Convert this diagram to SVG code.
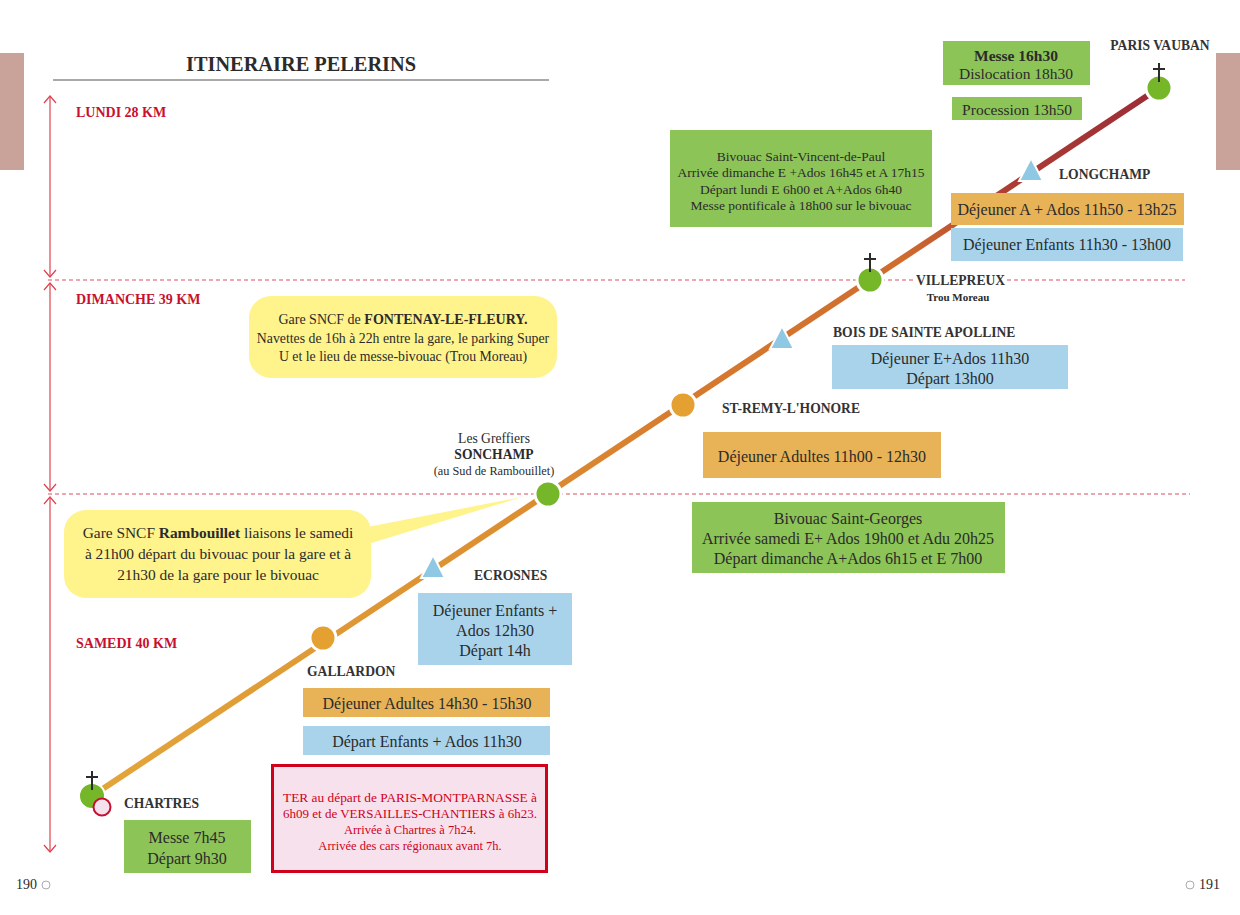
<svg xmlns="http://www.w3.org/2000/svg" width="1240" height="915" viewBox="0 0 1240 915">
<defs>
<style>
text{font-family:"Liberation Serif","Times New Roman",serif;fill:#2b2b2b}
.day{font-size:14px;font-weight:bold;fill:#C8102E}
.lbl{font-size:13.6px;font-weight:bold;fill:#333}
.bx{font-size:16px;text-anchor:middle}
.sm{font-size:13.5px;text-anchor:middle}
.top{font-size:15.5px;text-anchor:middle}
.green{fill:#8DC457}
.orange{fill:#E8B257}
.blue{fill:#A9D3EA}
.yellow{fill:#FFF38C}
.div{stroke:#D9505F;stroke-width:1.2;stroke-dasharray:4 3;fill:none}
.varr{stroke:#E0404F;stroke-width:1.2;fill:none}
.cross{stroke:#2b2b2b;stroke-width:2;fill:none}
.red{fill:#D0021B;font-size:12.5px;text-anchor:middle}
</style>
<linearGradient id="route" gradientUnits="userSpaceOnUse" x1="92" y1="796" x2="1159" y2="88">
<stop offset="0" stop-color="#E3A63A"/>
<stop offset="0.4" stop-color="#DC8E31"/>
<stop offset="0.55" stop-color="#D77B2E"/>
<stop offset="0.76" stop-color="#CF6C2E"/>
<stop offset="0.86" stop-color="#AC3D33"/>
<stop offset="1" stop-color="#9B2C37"/>
</linearGradient>
<marker id="chev" viewBox="0 0 10 14" refX="9" refY="7" markerWidth="10" markerHeight="14" markerUnits="userSpaceOnUse" orient="auto-start-reverse">
<path d="M2,1 L9,7 L2,13" fill="none" stroke="#E0404F" stroke-width="1.2"/>
</marker>
</defs>
<rect width="1240" height="915" fill="#ffffff"/>

<g id="page">
<rect x="0" y="53" width="24" height="117" fill="#C9A29A"/>
<rect x="1216" y="53" width="24" height="117" fill="#C9A29A"/>
<text x="301" y="71" text-anchor="middle" font-size="21" font-weight="bold" fill="#2b2b2b" textLength="230" lengthAdjust="spacingAndGlyphs">ITINERAIRE PELERINS</text>
<line x1="53" y1="80" x2="549" y2="80" stroke="#555" stroke-width="1.2"/>
<text x="16" y="889" font-size="14">190</text>
<circle cx="46" cy="885" r="4" fill="none" stroke="#aaa" stroke-width="1"/>
<circle cx="1190" cy="885" r="4" fill="none" stroke="#aaa" stroke-width="1"/>
<text x="1199" y="889" font-size="14">191</text>
</g>

<g id="days">
<line class="div" x1="48" y1="280" x2="1185" y2="280"/>
<line class="div" x1="48" y1="494" x2="1190" y2="494"/>
<line class="varr" x1="50" y1="96" x2="50" y2="277" marker-start="url(#chev)" marker-end="url(#chev)"/>
<line class="varr" x1="50" y1="283" x2="50" y2="491" marker-start="url(#chev)" marker-end="url(#chev)"/>
<line class="varr" x1="50" y1="497" x2="50" y2="852" marker-start="url(#chev)" marker-end="url(#chev)"/>
<text class="day" x="76" y="117">LUNDI 28 KM</text>
<text class="day" x="76" y="304">DIMANCHE 39 KM</text>
<text class="day" x="76" y="648">SAMEDI 40 KM</text>
</g>

<g id="connectors">
<line x1="92" y1="796" x2="1159" y2="88" stroke="url(#route)" stroke-width="6"/>
<path d="M352,530 L522,497 L355,548 Z" fill="#FFF38C"/>
</g>

<g id="paris-vauban">
<circle cx="1159" cy="88" r="13" fill="#76B72A" stroke="#fff" stroke-width="3"/>
<path class="cross" d="M1159,63 V82 M1153,69 H1165"/>
<text class="lbl" x="1160" y="50" text-anchor="middle">PARIS VAUBAN</text>
<rect class="green" x="943" y="41" width="147" height="44"/>
<text class="top" x="1016" y="61" font-weight="bold">Messe 16h30</text>
<text class="top" x="1016" y="79">Dislocation 18h30</text>
<rect class="green" x="952" y="97" width="130" height="23"/>
<text class="top" x="1017" y="115">Procession 13h50</text>
</g>

<g id="longchamp">
<path d="M1031,158 L1043,181 L1019,181 Z" fill="#8FC8E3" stroke="#fff" stroke-width="2"/>
<text class="lbl" x="1059" y="179">LONGCHAMP</text>
<rect class="orange" x="951" y="193" width="233" height="32"/>
<text class="bx" x="1067" y="215">Déjeuner A + Ados 11h50 - 13h25</text>
<rect class="blue" x="951" y="228" width="232" height="33"/>
<text class="bx" x="1067" y="250">Déjeuner Enfants 11h30 - 13h00</text>
</g>

<g id="villepreux">
<rect class="green" x="670" y="130" width="262" height="97"/>
<text class="sm" x="801" y="161">Bivouac Saint-Vincent-de-Paul</text>
<text class="sm" x="801" y="177">Arrivée dimanche E +Ados 16h45 et A 17h15</text>
<text class="sm" x="801" y="194">Départ lundi E 6h00 et A+Ados 6h40</text>
<text class="sm" x="801" y="210">Messe pontificale à 18h00 sur le bivouac</text>
<circle cx="870" cy="280" r="13" fill="#76B72A" stroke="#fff" stroke-width="3"/>
<path class="cross" d="M870,253 V272 M864,259 H876"/>
<rect x="913" y="273" width="94" height="15" fill="#fff"/>
<text class="lbl" x="916" y="285">VILLEPREUX</text>
<text x="958" y="301" text-anchor="middle" font-size="11" font-weight="bold" fill="#333">Trou Moreau</text>
</g>

<g id="fontenay">
<rect class="yellow" x="249" y="296" width="308" height="82" rx="22"/>
<text x="403" y="324" text-anchor="middle" font-size="14">Gare SNCF de <tspan font-weight="bold">FONTENAY-LE-FLEURY.</tspan></text>
<text x="403" y="343" text-anchor="middle" font-size="13.8">Navettes de 16h à 22h entre la gare, le parking Super</text>
<text x="403" y="361" text-anchor="middle" font-size="13.8">U et le lieu de messe-bivouac (Trou Moreau)</text>
</g>

<g id="bois-sainte-apolline">
<path d="M782,326 L794,349 L770,349 Z" fill="#8FC8E3" stroke="#fff" stroke-width="2"/>
<text class="lbl" x="833" y="337">BOIS DE SAINTE APOLLINE</text>
<rect class="blue" x="832" y="345" width="236" height="44"/>
<text class="bx" x="950" y="364">Déjeuner E+Ados 11h30</text>
<text class="bx" x="950" y="384">Départ 13h00</text>
</g>

<g id="st-remy">
<circle cx="683" cy="405" r="13" fill="#E5A032" stroke="#fff" stroke-width="3"/>
<text class="lbl" x="722" y="413">ST-REMY-L'HONORE</text>
<rect class="orange" x="703" y="432" width="238" height="46"/>
<text class="bx" x="822" y="462">Déjeuner Adultes 11h00 - 12h30</text>
</g>

<g id="sonchamp">
<text x="494" y="443" text-anchor="middle" font-size="13.6">Les Greffiers</text>
<text x="494" y="459" text-anchor="middle" font-size="13.6" font-weight="bold" fill="#333">SONCHAMP</text>
<text x="494" y="475" text-anchor="middle" font-size="12.3">(au Sud de Rambouillet)</text>
<circle cx="548" cy="494" r="13" fill="#76B72A" stroke="#fff" stroke-width="3"/>
<rect class="green" x="692" y="502" width="313" height="71"/>
<text class="bx" x="848" y="524">Bivouac Saint-Georges</text>
<text class="bx" x="848" y="544">Arrivée samedi E+ Ados 19h00 et Adu 20h25</text>
<text class="bx" x="848" y="564">Départ dimanche A+Ados 6h15 et E 7h00</text>
</g>

<g id="rambouillet">
<rect class="yellow" x="64" y="510" width="307" height="88" rx="22"/>
<text x="218" y="538" text-anchor="middle" font-size="15.4">Gare SNCF <tspan font-weight="bold">Rambouillet</tspan> liaisons le samedi</text>
<text x="218" y="559" text-anchor="middle" font-size="15.4">à 21h00 départ du bivouac pour la gare et à</text>
<text x="218" y="580" text-anchor="middle" font-size="15.4">21h30 de la gare pour le bivouac</text>
</g>

<g id="ecrosnes">
<path d="M433,555 L445,578 L421,578 Z" fill="#8FC8E3" stroke="#fff" stroke-width="2"/>
<text class="lbl" x="474" y="580">ECROSNES</text>
<rect class="blue" x="418" y="593" width="154" height="72"/>
<text class="bx" x="495" y="616">Déjeuner Enfants +</text>
<text class="bx" x="495" y="636">Ados 12h30</text>
<text class="bx" x="495" y="656">Départ 14h</text>
</g>

<g id="gallardon">
<circle cx="323" cy="638" r="13" fill="#E5A032" stroke="#fff" stroke-width="3"/>
<text class="lbl" x="307" y="676">GALLARDON</text>
<rect class="orange" x="303" y="688" width="247" height="29"/>
<text class="bx" x="427" y="709">Déjeuner Adultes 14h30 - 15h30</text>
<rect class="blue" x="303" y="726" width="247" height="29"/>
<text class="bx" x="427" y="747">Départ Enfants + Ados 11h30</text>
</g>

<g id="chartres">
<circle cx="92" cy="796" r="13" fill="#76B72A" stroke="#fff" stroke-width="2"/>
<path class="cross" d="M92,771 V790 M86,777 H98"/>
<circle cx="102" cy="807" r="8.5" fill="#F5E1EE" stroke="#C8102E" stroke-width="2"/>
<text class="lbl" x="124" y="808">CHARTRES</text>
<rect class="green" x="124" y="820" width="127" height="53"/>
<text class="bx" x="187" y="843">Messe 7h45</text>
<text class="bx" x="187" y="864">Départ 9h30</text>
<rect x="272.5" y="765.5" width="274" height="106" fill="#F7E1EC" stroke="#D0021B" stroke-width="3"/>
<text class="red" x="410" y="802" textLength="254" lengthAdjust="spacingAndGlyphs">TER au départ de PARIS-MONTPARNASSE à</text>
<text class="red" x="410" y="818" textLength="254" lengthAdjust="spacingAndGlyphs">6h09 et de VERSAILLES-CHANTIERS à 6h23.</text>
<text class="red" x="410" y="834">Arrivée à Chartres à 7h24.</text>
<text class="red" x="410" y="850">Arrivée des cars régionaux avant 7h.</text>
</g>
</svg>
